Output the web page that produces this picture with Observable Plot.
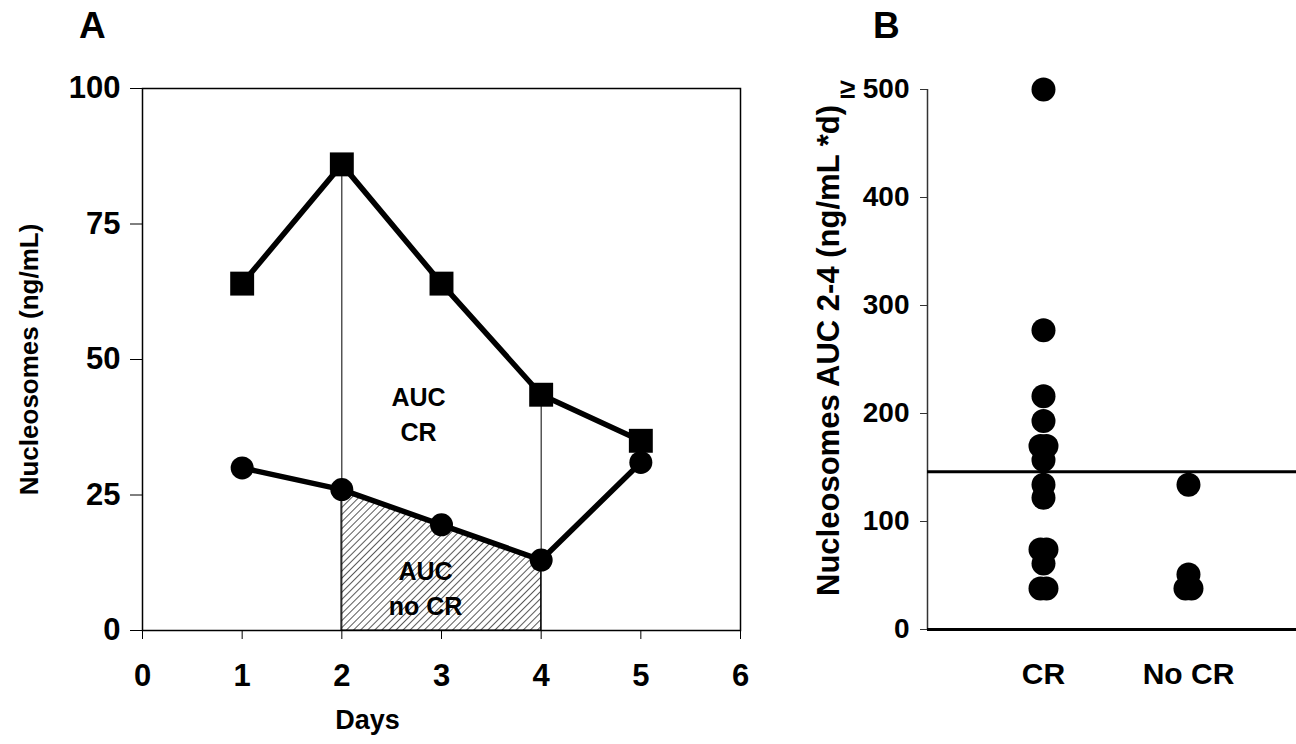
<!DOCTYPE html>
<html><head><meta charset="utf-8">
<script src="https://cdn.jsdelivr.net/npm/d3@7"></script>
<script src="https://cdn.jsdelivr.net/npm/@observablehq/plot@0.6"></script>
<style>
html,body{margin:0;padding:0;background:#fff;overflow:hidden}
#wrap{position:relative;width:1296px;height:744px;font-family:"Liberation Sans",Arial,sans-serif;font-weight:bold;color:#000}
.panel{position:absolute;top:0}
.letter{position:absolute;font-size:37px;font-weight:bold;line-height:1}
</style></head><body>
<div id="wrap"></div>
<script>
// ---- Panel A data ----
const days = [1, 2, 3, 4, 5];
const crValues = [64, 86, 64, 43.5, 35];
const noCrValues = [30, 26, 19.5, 13, 31];
const aucRange = [2, 4];
const xTicksA = [0, 1, 2, 3, 4, 5, 6];
const yTicksA = [0, 25, 50, 75, 100];

// ---- Panel B data ----
const groups = ["CR", "No CR"];
const aucCR = [500, 277, 216, 193, 170, 170, 157, 134, 122, 74, 74, 61, 38, 38];
const aucNoCR = [134, 51, 38, 38];
const threshold = 146;
const yTicksB = [0, 100, 200, 300, 400, 500];

const font = "Liberation Sans, Arial, sans-serif";
const wrap = document.getElementById("wrap");

const crRows = days.map((d, i) => ({day: d, value: crValues[i]}));
const noRows = days.map((d, i) => ({day: d, value: noCrValues[i]}));
const inAuc = r => r.day >= aucRange[0] && r.day <= aucRange[1];
const atEdge = r => aucRange.includes(r.day);

const plotA = Plot.plot({
  width: 800, height: 744,
  marginLeft: 142, marginRight: 60, marginTop: 88, marginBottom: 114,
  style: {fontFamily: font, fontWeight: "bold", color: "#000", background: "transparent", overflow: "visible"},
  x: {domain: [0, 6]},
  y: {domain: [0, 100]},
  marks: [
    Plot.areaY(noRows.filter(inAuc), {x: "day", y: "value", fill: "url(#hatch)", stroke: "#000", strokeWidth: 1}),
    Plot.ruleX(crRows.filter(atEdge), {x: "day", y1: 0, y2: "value", stroke: "#000", strokeWidth: 1}),
    Plot.frame({stroke: "#000", strokeWidth: 1.5}),
    Plot.axisX({ticks: xTicksA, tickFormat: d => String(d), tickSize: 9, tickPadding: 24, fontSize: 31, fontWeight: "bold", label: null}),
    Plot.axisY({ticks: yTicksA, tickSize: 12, tickPadding: 10, fontSize: 31, fontWeight: "bold", label: null}),
    Plot.text(["Days"], {frameAnchor: "bottom", text: d => d, textAnchor: "middle", lineAnchor: "middle", dx: -74, dy: 90, fontSize: 27, fontWeight: "bold", fill: "#000"}),
    Plot.text(["Nucleosomes (ng/mL)"], {frameAnchor: "left", text: d => d, textAnchor: "middle", lineAnchor: "middle", rotate: -90, dx: -113, fontSize: 26, fontWeight: "bold", fill: "#000"}),
    Plot.line(crRows, {x: "day", y: "value", stroke: "#000", strokeWidth: 5.5}),
    Plot.line(noRows, {x: "day", y: "value", stroke: "#000", strokeWidth: 5.5}),
    Plot.dot(crRows, {x: "day", y: "value", symbol: "square", r: 13.5, fill: "#000"}),
    Plot.dot(noRows, {x: "day", y: "value", r: 11.5, fill: "#000"}),
    Plot.text(["AUC\nCR"], {x: 2.77, y: 40.2, text: d => d, fontSize: 25, fontWeight: "bold", lineHeight: 1.4, fill: "#000"}),
    Plot.text(["AUC\nno CR"], {x: 2.84, y: 8.1, text: d => d, fontSize: 25, fontWeight: "bold", lineHeight: 1.4, fill: "#000"})
  ]
});
// hatch pattern definition
const defs = d3.select(plotA).insert("defs", ":first-child");
const pat = defs.append("pattern").attr("id", "hatch").attr("patternUnits", "userSpaceOnUse")
  .attr("width", 5).attr("height", 5).attr("patternTransform", "rotate(45)");
pat.append("rect").attr("width", 5).attr("height", 5).attr("fill", "#fff");
pat.append("line").attr("x1", 0).attr("y1", 0).attr("x2", 0).attr("y2", 5).attr("stroke", "#000").attr("stroke-width", 1.3);
plotA.classList.add("panel");
plotA.style.left = "0px";
wrap.appendChild(plotA);

// ---- Panel B ----
const rowsB = [];
[aucCR, aucNoCR].forEach((vals, gi) => {
  vals.forEach((v, i) => {
    const same = vals.filter(u => u === v).length;
    const k = vals.slice(0, i).filter(u => u === v).length;
    rowsB.push({pos: gi + 1, group: groups[gi], value: v, side: k - (same - 1) / 2});
  });
});
const xDomainB = [0.2, 2.745];
const plotB = Plot.plot({
  width: 496, height: 744,
  marginLeft: 127, marginRight: 0, marginTop: 89, marginBottom: 115,
  style: {fontFamily: font, fontWeight: "bold", color: "#000", background: "transparent", overflow: "visible"},
  x: {type: "linear", domain: xDomainB},
  y: {domain: [0, 500]},
  marks: [
    Plot.ruleX([xDomainB[0]], {stroke: "#333", strokeWidth: 1.5}),
    Plot.axisY({ticks: yTicksB, tickFormat: v => v === 500 ? "\u2265 500" : String(v), tickSize: 7, tickPadding: 11, stroke: "#333", fontSize: 28, fontWeight: "bold", label: null}),
    Plot.axisX({ticks: [1, 2], tickFormat: i => groups[i - 1], tickSize: 0, tickPadding: 33, fontSize: 30, fontWeight: "bold", label: null}),
    Plot.text(["Nucleosomes AUC 2-4 (ng/mL *d)"], {frameAnchor: "left", text: d => d, textAnchor: "middle", lineAnchor: "middle", rotate: -90, dx: -98, dy: -9, fontSize: 31, fontWeight: "bold", fill: "#000"}),
    Plot.ruleY([0], {stroke: "#000", strokeWidth: 3}),
    Plot.ruleY([threshold], {stroke: "#000", strokeWidth: 3}),
    Plot.dot(rowsB.filter(r => r.side === 0), {x: "pos", y: "value", r: 12, fill: "#000"}),
    Plot.dot(rowsB.filter(r => r.side < 0), {x: "pos", y: "value", r: 12, fill: "#000", dx: -3}),
    Plot.dot(rowsB.filter(r => r.side > 0), {x: "pos", y: "value", r: 12, fill: "#000", dx: 3})
  ]
});
plotB.classList.add("panel");
plotB.style.left = "800px";
wrap.appendChild(plotB);

const la = document.createElement("div");
la.className = "letter"; la.textContent = "A"; la.style.left = "79px"; la.style.top = "7px";
wrap.appendChild(la);
const lb = document.createElement("div");
lb.className = "letter"; lb.textContent = "B"; lb.style.left = "873px"; lb.style.top = "7px";
wrap.appendChild(lb);
</script>
</body></html>
